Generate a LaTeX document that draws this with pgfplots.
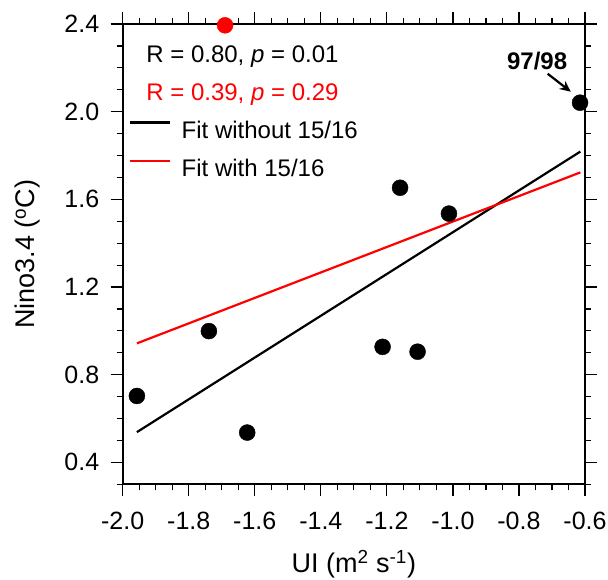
\documentclass[border=0pt]{standalone}
\usepackage{fontspec}
\setmainfont{Liberation Sans}
\usepackage{pgfplots}
\pgfplotsset{compat=1.18}
\usetikzlibrary{arrows.meta}
\begin{document}
\begin{tikzpicture}
\useasboundingbox (-122.7pt,-94.7pt) rectangle (485.3pt,484.3pt);
\begin{axis}[
  at={(0pt,0pt)}, anchor=south west,
  scale only axis, width=462.3pt, height=460.3pt,
  xmin=-2.0, xmax=-0.6, ymin=0.3, ymax=2.4,
  xtick={-2.0,-1.8,-1.6,-1.4,-1.2,-1.0,-0.8,-0.6},
  xticklabels={-2.0,-1.8,-1.6,-1.4,-1.2,-1.0,-0.8,-0.6},
  minor xtick={-1.95,-1.9,-1.85,-1.75,-1.7,-1.65,-1.55,-1.5,-1.45,-1.35,-1.3,-1.25,-1.15,-1.1,-1.05,-0.95,-0.9,-0.85,-0.75,-0.7,-0.65},
  ytick={0.4,0.8,1.2,1.6,2.0,2.4},
  yticklabels={0.4,0.8,1.2,1.6,2.0,2.4},
  minor ytick={0.3,0.5,0.6,0.7,0.9,1.0,1.1,1.3,1.4,1.5,1.7,1.8,1.9,2.1,2.2,2.3},
  tick align=outside,
  major tick length=12pt, minor tick length=6pt,
  every tick/.style={black, line width=1.2pt},
  axis line style={line width=1.8pt},
  tick label style={font=\fontsize{25}{30}\selectfont},
  xticklabel style={yshift=-12pt},
  yticklabel style={xshift=-8pt},
  label style={font=\fontsize{27}{32}\selectfont},
  xlabel={UI (m\textsuperscript{2} s\textsuperscript{-1})},
  ylabel={Nino3.4 (\textsuperscript{o}C)},
  xlabel style={at={([yshift=-88.4pt]axis description cs:0.5,0)}, anchor=base},
  ylabel style={at={([xshift=-87.7pt]axis description cs:0,0.5)}, anchor=base},
  clip=false,
  legend cell align=left,
  legend image code/.code={\draw[#1] (0pt,8pt) -- (40pt,8pt);},
  legend style={draw=none, fill=none, inner sep=0pt,
    at={(axis description cs:0.013,0.7897)}, anchor=north west,
    font=\fontsize{24}{28}\selectfont,
    nodes={inner sep=0pt}, row sep=19.3pt,
    /tikz/every odd column/.style={column sep=10.6pt}},
]
\addplot[black, line width=2.2pt] coordinates {(-1.957,0.538) (-0.614,1.818)};
\addlegendentry{Fit without 15/16}
\addplot[red, line width=2.2pt] coordinates {(-1.957,0.943) (-0.614,1.723)};
\addlegendentry{Fit with 15/16}
\addplot[only marks, mark=*, mark size=8pt, mark options={fill=black, draw=black}, forget plot] coordinates {
(-1.957,0.703) (-1.739,0.999) (-1.623,0.536) (-1.213,0.927)
(-1.107,0.905) (-1.012,1.535) (-1.160,1.653) (-0.615,2.041)};
\addplot[only marks, mark=*, mark size=8pt, mark options={fill=red, draw=red}, forget plot] coordinates {(-1.690,2.394)};
\node[anchor=base west, font=\fontsize{24}{28}\selectfont] at (axis cs:-1.939,2.223) {R = 0.80, \textit{p} = 0.01};
\node[anchor=base west, text=red, font=\fontsize{24}{28}\selectfont] at (axis cs:-1.939,2.052) {R = 0.39, \textit{p} = 0.29};
\node[anchor=base, font=\bfseries\fontsize{24}{28}\selectfont] at (axis cs:-0.745,2.193) {97/98};
\draw[line width=2.2pt, -{Stealth[length=11pt,width=10pt]}] (axis cs:-0.713,2.173) -- (axis cs:-0.643,2.091);
\end{axis}
\end{tikzpicture}
\end{document}
